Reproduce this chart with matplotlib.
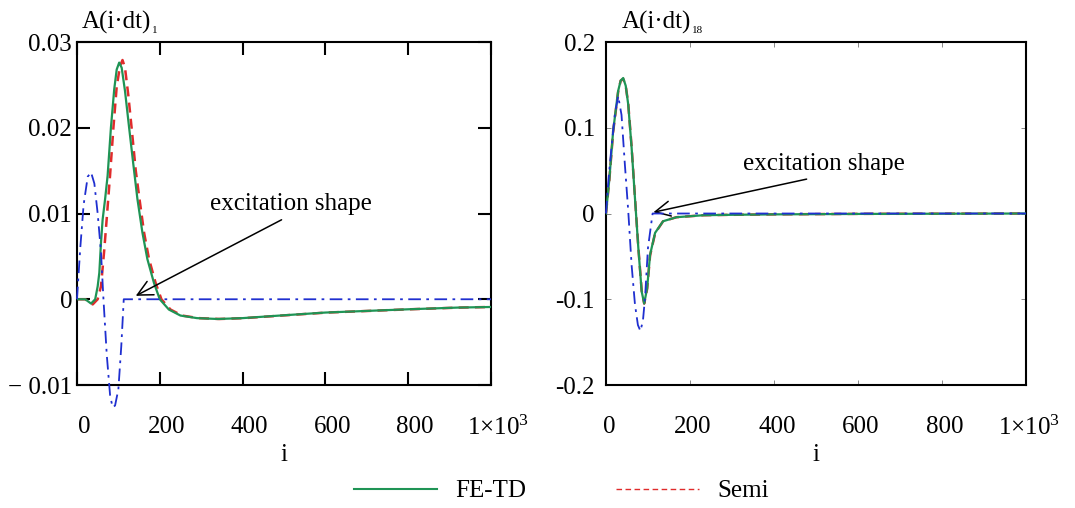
import matplotlib
matplotlib.use("Agg")
import matplotlib.pyplot as plt
import matplotlib.transforms as mtransforms
from matplotlib.lines import Line2D

plt.rcParams['font.family'] = ['Liberation Serif', 'DejaVu Serif']
plt.rcParams['mathtext.fontset'] = 'custom'
plt.rcParams['mathtext.rm'] = 'Liberation Serif'
plt.rcParams['mathtext.it'] = 'Liberation Serif:italic'

# ---- data: left panel, A(i*dt)_1 ----
fetd1_i = [0, 20, 34, 44, 50, 54, 58, 62, 68, 74, 82, 90, 96, 102, 108, 116, 126,
           136, 146, 158, 170, 186, 200, 222, 250, 290, 340, 400, 490, 600, 800, 920, 1000]
fetd1_a = [0, 0, -0.0005, 0.0, 0.0015, 0.0031, 0.0066, 0.0093, 0.0117, 0.0144, 0.0200,
           0.0245, 0.0268, 0.0276, 0.0270, 0.0243, 0.0200, 0.0158, 0.0117, 0.0078,
           0.0047, 0.0019, 0.0, -0.0012, -0.0019, -0.0022, -0.0023, -0.0022, -0.0019,
           -0.00155, -0.00117, -0.00097, -0.0009]

semi1_i = [0, 20, 38, 50, 58, 66, 72, 80, 88, 96, 104, 110, 116, 124, 132, 142, 151,
           162, 174, 190, 204, 226, 254, 294, 344, 404, 494, 604, 804, 924, 1000]
semi1_a = [0, 0, -0.0006, 0.0, 0.0015, 0.0058, 0.0095, 0.0145, 0.0200, 0.0248, 0.0272,
           0.0279, 0.0270, 0.0238, 0.0200, 0.0150, 0.0117, 0.0078, 0.0047, 0.0019, 0.0,
           -0.0012, -0.0019, -0.0022, -0.0023, -0.0022, -0.0019, -0.00155, -0.00117,
           -0.00097, -0.0009]

exc1_i = [0, 8, 16, 26, 34, 42, 50, 58, 64, 72, 80, 86, 92, 100, 107, 113, 1000]
exc1_a = [0, 0.0060, 0.0110, 0.0143, 0.0148, 0.0135, 0.0100, 0.0055, 0.0, -0.0065,
          -0.0112, -0.0126, -0.0124, -0.0105, -0.0055, 0.0, 0.0]

# ---- data: right panel, A(i*dt)_18 ----
fetd18_i = [0, 8, 17, 29, 35, 41, 47, 53, 61, 69, 77, 85, 91, 98, 105, 117, 136, 168,
            232, 300, 400, 600, 1000]
fetd18_a = [0, 0.040, 0.096, 0.143, 0.155, 0.158, 0.149, 0.127, 0.077, 0.018, -0.040,
            -0.091, -0.105, -0.087, -0.048, -0.0225, -0.009, -0.0043, -0.002, -0.0015,
            -0.001, -0.0005, 0.0]

semi18_i = [0, 8, 17, 29, 35, 41, 47, 53, 61, 69, 77, 85, 91, 98, 105, 117, 136, 168,
            232, 300, 400, 600, 1000]
semi18_a = [0, 0.039, 0.095, 0.142, 0.155, 0.157, 0.149, 0.128, 0.078, 0.019, -0.039,
            -0.090, -0.105, -0.088, -0.049, -0.023, -0.009, -0.0043, -0.002, -0.0015,
            -0.001, -0.0004, 0.0]

exc18_i = [0, 6, 13, 21, 29, 37, 45, 53, 61, 69, 76, 82, 88, 93, 100, 111, 1000]
exc18_a = [0, 0.040, 0.077, 0.115, 0.137, 0.115, 0.057, 0.003, -0.060, -0.106, -0.130,
           -0.137, -0.125, -0.098, -0.040, 0.0, 0.0]

x_ticks = [0, 200, 400, 600, 800, 1000]
x_ticklabels = ['0', '200', '400', '600', '800', '1×10$^{3}$']
y1_ticks = [-0.01, 0, 0.01, 0.02, 0.03]
y1_ticklabels = ['− 0.01', '0', '0.01', '0.02', '0.03']
y18_ticks = [-0.2, -0.1, 0, 0.1, 0.2]
y18_ticklabels = ['-0.2', '-0.1', '0', '0.1', '0.2']

GREEN = '#1f9455'
RED = '#e02b2b'
BLUE = '#1f2fd0'
DASHDOT = (0, (7, 3, 1.5, 3))

fig = plt.figure(figsize=(10.75, 5.08), dpi=100)
ax1 = fig.add_axes([0.0716, 0.2421, 0.3851, 0.6752])
ax2 = fig.add_axes([0.5637, 0.2421, 0.3907, 0.6752])

FS = 18

def draw_panel(ax, semi_i, semi_a, fe_i, fe_a, ex_i, ex_a):
    ax.plot(semi_i, semi_a, color=RED, lw=1.8, ls=(0, (4, 2.5)), zorder=2)
    ax.plot(fe_i, fe_a, color=GREEN, lw=1.6, zorder=3)
    ax.plot(ex_i, ex_a, color=BLUE, lw=1.3, ls=DASHDOT, zorder=4, clip_on=False)
    ax.set_xlim(0, 1000)
    ax.set_xticks(x_ticks)
    ax.set_xticklabels(x_ticklabels, fontsize=FS)
    ax.set_xlabel('i', fontsize=FS, labelpad=3)
    for s in ax.spines.values():
        s.set_linewidth(1.5)

# left panel
draw_panel(ax1, semi1_i, semi1_a, fetd1_i, fetd1_a, exc1_i, exc1_a)
ax1.set_ylim(-0.01, 0.03)
ax1.set_yticks(y1_ticks)
ax1.set_yticklabels(y1_ticklabels, fontsize=FS)
ax1.tick_params(axis='both', which='major', direction='in', length=9.5, width=1.5,
                top=True, right=True, color='black')
ax1.tick_params(axis='x', pad=22)
ax1.tick_params(axis='y', pad=3.5)

# right panel
draw_panel(ax2, semi18_i, semi18_a, fetd18_i, fetd18_a, exc18_i, exc18_a)
ax2.set_ylim(-0.2, 0.2)
ax2.set_yticks(y18_ticks)
ax2.set_yticklabels(y18_ticklabels, fontsize=FS)
ax2.tick_params(axis='both', which='major', direction='in', length=3.5, width=0.7,
                top=True, right=True, color='#888888')
ax2.tick_params(axis='x', pad=22)
ax2.tick_params(axis='y', pad=8)

# shift x tick labels a bit to the right, like the original
for ax, dx in ((ax1, 7), (ax2, 3)):
    off = mtransforms.ScaledTranslation(dx / 100, 0, fig.dpi_scale_trans)
    for lab in ax.get_xticklabels():
        lab.set_transform(lab.get_transform() + off)

# y-axis titles above each panel
for ax, sub, x0 in ((ax1, '1', 82), (ax2, '18', 622)):
    t = fig.text(x0 / 1075, 1 - 29 / 508, 'A(i·dt)', fontsize=FS, va='baseline', ha='left')
    ax.annotate(sub, xy=(1, 0), xycoords=t, xytext=(0.5, 1), textcoords='offset points',
                fontsize=8, va='baseline', ha='left')

# annotations
arrow = dict(arrowstyle='->, head_length=0.6, head_width=0.3', color='black',
             lw=1.1, relpos=(0.5, 0), shrinkA=3, shrinkB=0)
ax1.annotate('excitation shape', xy=(142, 0.0004), xytext=(516, 0.0111),
             fontsize=FS, ha='center', va='center', arrowprops=arrow)
ax2.annotate('excitation shape', xy=(113, 0.0015), xytext=(518, 0.0572),
             fontsize=FS, ha='center', va='center', arrowprops=arrow)

# legend
handles = [Line2D([], [], color=GREEN, lw=1.5),
           Line2D([], [], color=RED, lw=1.0, ls=(0, (4, 2.5)))]
fig.legend(handles, ['FE-TD', 'Semi'], loc='center', bbox_to_anchor=(0.5225, 1 - 491 / 508),
           ncol=2, frameon=False, fontsize=FS, handlelength=3.3, handletextpad=0.75,
           columnspacing=3.6)

fig.savefig('out.png', dpi=100)
